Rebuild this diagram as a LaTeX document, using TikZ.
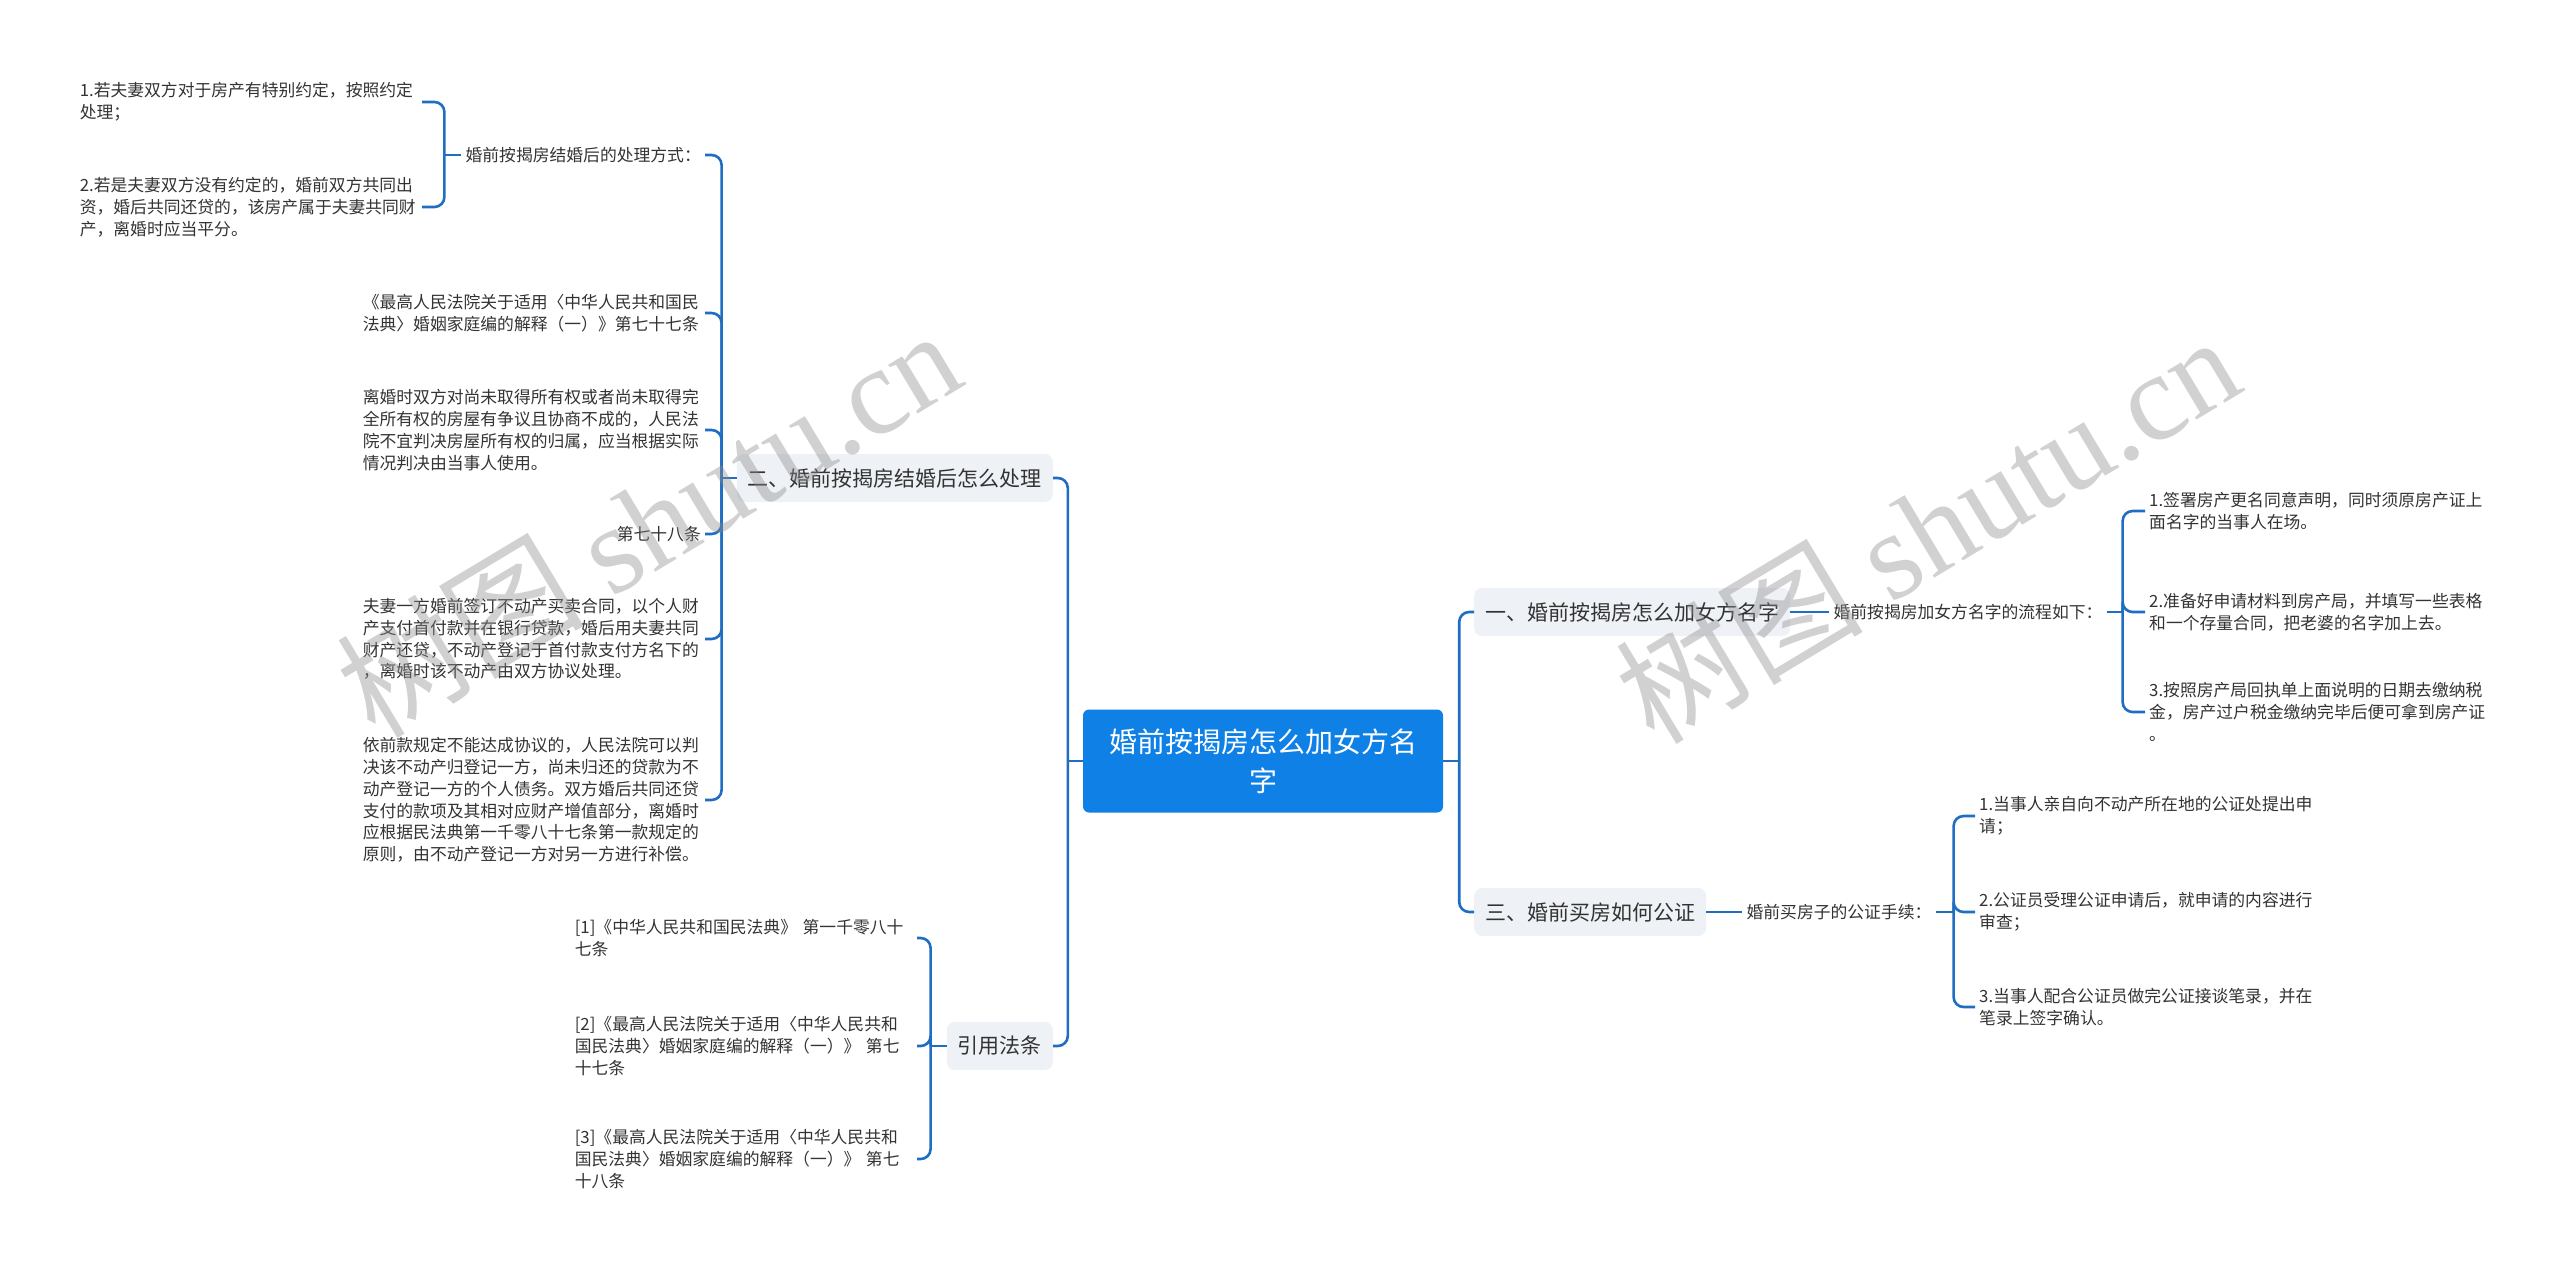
\documentclass[tikz,border=0pt]{standalone}
\usepackage{fontspec}
\setmainfont{Noto Sans CJK SC}
\newfontfamily\wmfont{Liberation Serif}
\usetikzlibrary{positioning}
\definecolor{RootBlue}{HTML}{0F80E6}
\definecolor{Topic}{HTML}{EEF1F5}
\definecolor{Link}{HTML}{1F6EC2}
\definecolor{Ink}{HTML}{333333}
\definecolor{Stamp}{HTML}{8C8C8C}
\tikzset{
  every node/.append style={text=Ink},
  rootbox/.style={fill=RootBlue, rounded corners=6pt, text=white, align=center,
                  minimum width=360pt, minimum height=103pt,
                  font=\fontsize{28}{39}\selectfont},
  topic/.style={fill=Topic, rounded corners=8pt, inner xsep=11pt, inner ysep=4pt,
                minimum height=48pt, font=\fontsize{21}{26}\selectfont},
  sub/.style={inner sep=4pt, font=\fontsize{16.8}{21.8}\selectfont},
  leaf/.style={sub, text width=338pt, align=left},
  link/.style={draw=Link, line width=2.6pt, rounded corners=10pt},
  stamp/.style={text=Stamp, opacity=0.4, font=\fontsize{124}{124}\selectfont},
}

\begin{document}
\begin{tikzpicture}[x=1pt, y=-1pt, node distance=38pt]
  \fill[white] (0,0) rectangle (2560,1271);
  \node[rootbox] (root) at (1263,761) {婚前按揭房怎么加女方名\\字};
  \node[topic, anchor=east] (sec2) at (1053,478) {二、婚前按揭房结婚后怎么处理};
  \node[topic, anchor=east] (cite) at (1053,1046) {引用法条};
  \node[topic, anchor=west] (sec1) at (1474,612) {一、婚前按揭房怎么加女方名字};
  \node[topic, anchor=west] (sec3) at (1474,912) {三、婚前买房如何公证};

  \node[sub, anchor=east] (way) at (705,155) {婚前按揭房结婚后的处理方式：};
  \node[leaf, anchor=east] (way1) at (422,102) {1.若夫妻双方对于房产有特别约定，按照约定\\处理；};
  \node[leaf, anchor=east] (way2) at (422,207) {2.若是夫妻双方没有约定的，婚前双方共同出\\资，婚后共同还贷的，该房产属于夫妻共同财\\产，离婚时应当平分。};
  \node[leaf, anchor=east] (art77) at (705,313) {《最高人民法院关于适用〈中华人民共和国民\\法典〉婚姻家庭编的解释（一）》第七十七条};
  \node[leaf, anchor=east] (disp) at (705,430) {离婚时双方对尚未取得所有权或者尚未取得完\\全所有权的房屋有争议且协商不成的，人民法\\院不宜判决房屋所有权的归属，应当根据实际\\情况判决由当事人使用。};
  \node[sub, anchor=east] (art78) at (705,534) {第七十八条};
  \node[leaf, anchor=east] (loan) at (705,639) {夫妻一方婚前签订不动产买卖合同，以个人财\\产支付首付款并在银行贷款，婚后用夫妻共同\\财产还贷，不动产登记于首付款支付方名下的\\，离婚时该不动产由双方协议处理。};
  \node[leaf, anchor=east] (comp) at (705,800) {依前款规定不能达成协议的，人民法院可以判\\决该不动产归登记一方，尚未归还的贷款为不\\动产登记一方的个人债务。双方婚后共同还贷\\支付的款项及其相对应财产增值部分，离婚时\\应根据民法典第一千零八十七条第一款规定的\\原则，由不动产登记一方对另一方进行补偿。};

  \node[leaf, anchor=east] (ref1) at (917,938) {[1]《中华人民共和国民法典》 第一千零八十\\七条};
  \node[leaf, anchor=east] (ref2) at (917,1046) {[2]《最高人民法院关于适用〈中华人民共和\\国民法典〉婚姻家庭编的解释（一）》 第七\\十七条};
  \node[leaf, anchor=east] (ref3) at (917,1159) {[3]《最高人民法院关于适用〈中华人民共和\\国民法典〉婚姻家庭编的解释（一）》 第七\\十八条};

  \node[sub, right=39pt of sec1] (flow) {婚前按揭房加女方名字的流程如下：};
  \node[leaf, anchor=west] (flow1) at (2145,511) {1.签署房产更名同意声明，同时须原房产证上\\面名字的当事人在场。};
  \node[leaf, anchor=west] (flow2) at (2145,612) {2.准备好申请材料到房产局，并填写一些表格\\和一个存量合同，把老婆的名字加上去。};
  \node[leaf, anchor=west] (flow3) at (2145,712) {3.按照房产局回执单上面说明的日期去缴纳税\\金，房产过户税金缴纳完毕后便可拿到房产证\\。};

  \node[sub, right=36pt of sec3] (nota) {婚前买房子的公证手续：};
  \node[leaf, anchor=west] (nota1) at (1975,816) {1.当事人亲自向不动产所在地的公证处提出申\\请；};
  \node[leaf, anchor=west] (nota2) at (1975,912) {2.公证员受理公证申请后，就申请的内容进行\\审查；};
  \node[leaf, anchor=west] (nota3) at (1975,1007) {3.当事人配合公证员做完公证接谈笔录，并在\\笔录上签字确认。};

  \draw[link] (root.west) -- ++(-15,0) coordinate (lj);
  \draw[link] (lj) |- (sec2.east);
  \draw[link] (lj) |- (cite.east);
  \draw[link] (root.east) -- ++(16,0) coordinate (rj);
  \draw[link] (rj) |- (sec1.west);
  \draw[link] (rj) |- (sec3.west);

  \draw[link] (sec2.west) -- ++(-15,0) coordinate (j2);
  \foreach \n in {way, art77, disp, art78, loan, comp}
    \draw[link] (j2) |- (\n.east);
  \draw[link] (way.west) -- ++(-17,0) coordinate (jw);
  \foreach \n in {way1, way2}
    \draw[link] (jw) |- (\n.east);
  \draw[link] (cite.west) -- ++(-16,0) coordinate (jc);
  \foreach \n in {ref1, ref2, ref3}
    \draw[link] (jc) |- (\n.east);

  \draw[link] (sec1) -- (flow);
  \draw[link] (flow.east) -- ++(16,0) coordinate (jf);
  \foreach \n in {flow1, flow2, flow3}
    \draw[link] (jf) |- (\n.west);
  \draw[link] (sec3) -- (nota);
  \draw[link] (nota.east) -- ++(18,0) coordinate (jn);
  \foreach \n in {nota1, nota2, nota3}
    \draw[link] (jn) |- (\n.west);

  \node[stamp, rotate=31] (mark1) at (648,522) {树图 {\wmfont shutu.cn}};
  \node[stamp, rotate=31] (mark2) at (1927,528) {树图 {\wmfont shutu.cn}};
\end{tikzpicture}
\end{document}
